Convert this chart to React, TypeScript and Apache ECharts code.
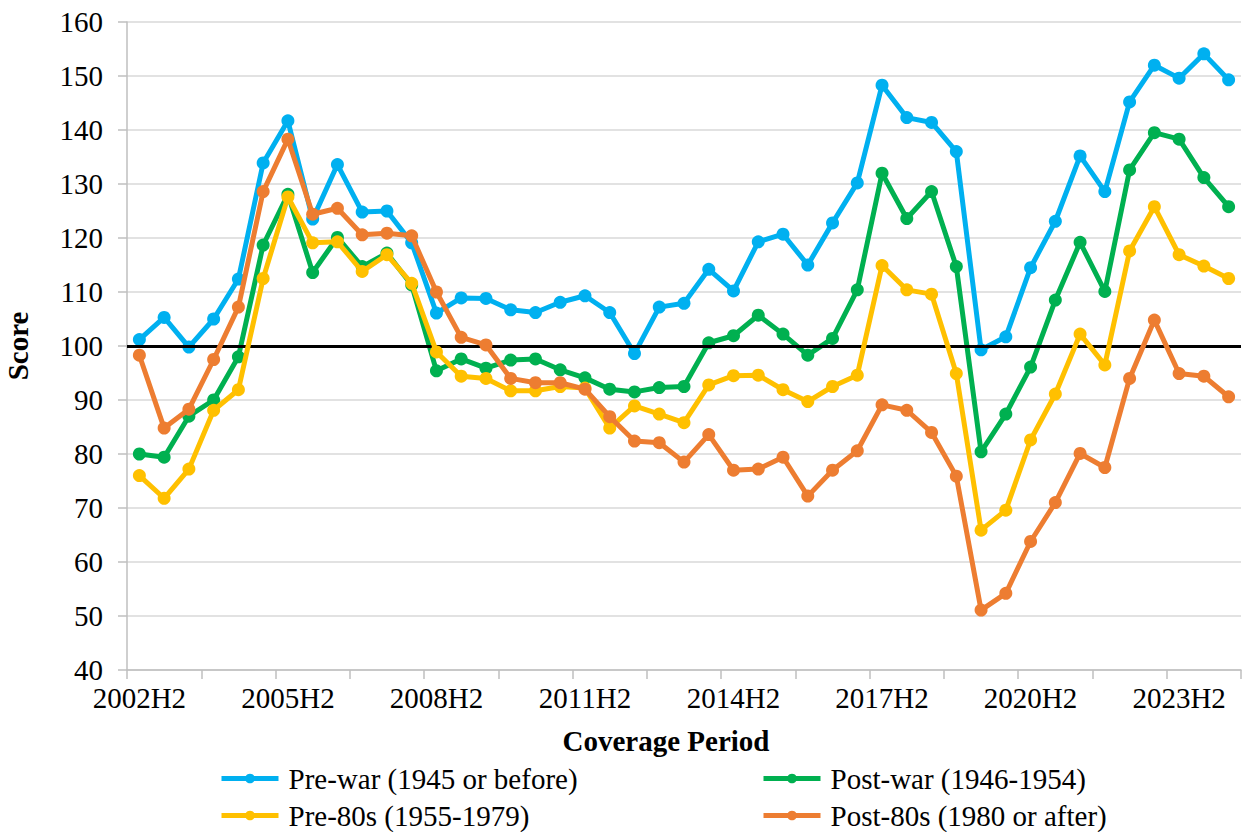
import React, { useEffect, useRef } from "react";
import * as echarts from "echarts";

const periods = [
  "2002H2", "2003H1", "2003H2", "2004H1", "2004H2", "2005H1", "2005H2", "2006H1", "2006H2",
  "2007H1", "2007H2", "2008H1", "2008H2", "2009H1", "2009H2", "2010H1", "2010H2", "2011H1",
  "2011H2", "2012H1", "2012H2", "2013H1", "2013H2", "2014H1", "2014H2", "2015H1", "2015H2",
  "2016H1", "2016H2", "2017H1", "2017H2", "2018H1", "2018H2", "2019H1", "2019H2", "2020H1",
  "2020H2", "2021H1", "2021H2", "2022H1", "2022H2", "2023H1", "2023H2", "2024H1", "2024H2",
];

const preWar = [
  101.2, 105.3, 99.8, 105.0, 112.4, 133.9, 141.7, 123.5, 133.6, 124.8, 125.0, 119.1, 106.1,
  108.9, 108.8, 106.7, 106.2, 108.1, 109.3, 106.2, 98.6, 107.2, 107.9, 114.2, 110.2, 119.3,
  120.7, 115.0, 122.8, 130.2, 148.3, 142.3, 141.4, 136.0, 99.3, 101.7, 114.5, 123.1, 135.2,
  128.6, 145.2, 152.0, 149.6, 154.1, 149.3,
];

const postWar = [
  80.0, 79.4, 87.0, 90.0, 98.0, 118.7, 128.1, 113.6, 120.1, 114.7, 117.2, 111.3, 95.4, 97.6,
  95.9, 97.4, 97.6, 95.6, 94.1, 92.0, 91.5, 92.3, 92.5, 100.6, 101.9, 105.7, 102.2, 98.3,
  101.4, 110.4, 132.0, 123.6, 128.6, 114.7, 80.4, 87.4, 96.1, 108.5, 119.2, 110.1, 132.6,
  139.5, 138.3, 131.2, 125.8,
];

const pre80s = [
  76.0, 71.8, 77.2, 88.1, 91.9, 112.5, 127.6, 119.1, 119.3, 113.8, 116.9, 111.6, 98.9, 94.4,
  94.0, 91.7, 91.7, 92.5, 92.2, 84.8, 88.9, 87.4, 85.8, 92.8, 94.5, 94.6, 91.9, 89.7, 92.5,
  94.6, 114.9, 110.4, 109.6, 94.9, 65.9, 69.6, 82.6, 91.1, 102.2, 96.5, 117.6, 125.8, 116.9,
  114.8, 112.5,
];

const post80s = [
  98.3, 84.8, 88.3, 97.5, 107.2, 128.6, 138.3, 124.4, 125.5, 120.6, 120.9, 120.4, 110.0,
  101.6, 100.2, 94.0, 93.2, 93.2, 92.0, 86.9, 82.4, 82.1, 78.5, 83.6, 77.0, 77.2, 79.4, 72.2,
  77.0, 80.6, 89.1, 88.1, 84.0, 75.9, 51.1, 54.2, 63.8, 71.0, 80.1, 77.5, 94.0, 104.8, 94.9,
  94.4, 90.6,
];

const seriesNames = [
  "Pre-war (1945 or before)",
  "Post-war (1946-1954)",
  "Pre-80s (1955-1979)",
  "Post-80s (1980 or after)",
];
const seriesColors = ["#00B0F0", "#00B050", "#FFC000", "#ED7D31"];
const seriesData = [preWar, postWar, pre80s, post80s];
const referenceLevel = 100;

const FONT = "'Liberation Serif', 'Times New Roman', serif";
const FS = 29;

export default function App() {
  const ref = useRef<HTMLDivElement>(null);

  useEffect(() => {
    if (!ref.current) return;
    const chart = echarts.init(ref.current, undefined, { renderer: "svg" });

    const legendPos = [
      { left: 219, top: 764 },
      { left: 761, top: 764 },
      { left: 219, top: 801 },
      { left: 761, top: 801 },
    ];

    const option: any = {
      animation: false,
      backgroundColor: "#ffffff",
      textStyle: { fontFamily: FONT },
      grid: { left: 127, right: 2, top: 22, bottom: 162, containLabel: false },
      legend: seriesNames.map((n, i) => ({
        data: [n],
        left: legendPos[i].left,
        top: legendPos[i].top,
        itemWidth: 57,
        itemHeight: 12,
        itemGap: 0,
        padding: 0,
        lineStyle: { width: 5 },
        textStyle: {
          fontFamily: FONT,
          fontSize: FS,
          color: "#000",
          padding: [0, 0, 0, 5],
        },
        selectedMode: false,
      })),
      xAxis: {
        type: "category",
        data: periods,
        boundaryGap: true,
        axisLine: { lineStyle: { color: "#BFBFBF", width: 1.5 } },
        axisTick: {
          show: true,
          interval: 2,
          length: 9,
          lineStyle: { color: "#BFBFBF", width: 1.5 },
        },
        axisLabel: {
          interval: 5,
          fontFamily: FONT,
          fontSize: FS,
          color: "#000",
          margin: 13,
        },
        splitLine: { show: false },
      },
      yAxis: {
        type: "value",
        min: 40,
        max: 160,
        interval: 10,
        axisLine: { show: true, lineStyle: { color: "#BFBFBF", width: 1.5 } },
        axisTick: { show: true, length: 9, lineStyle: { color: "#BFBFBF", width: 1.5 } },
        axisLabel: {
          fontFamily: FONT,
          fontSize: FS,
          color: "#000",
          margin: 24,
        },
        splitLine: { show: true, lineStyle: { color: "#D9D9D9", width: 1.5 } },
      },
      graphic: [
        {
          type: "text",
          x: 18,
          y: 346,
          rotation: Math.PI / 2,
          style: {
            text: "Score",
            font: `bold ${FS}px ${FONT}`,
            fill: "#000",
            align: "center",
            verticalAlign: "middle",
          },
        },
        {
          type: "text",
          x: 666,
          y: 741,
          style: {
            text: "Coverage Period",
            font: `bold ${FS}px ${FONT}`,
            fill: "#000",
            align: "center",
            verticalAlign: "middle",
          },
        },
      ],
      series: seriesNames.map((n, i) => ({
        name: n,
        type: "line",
        data: seriesData[i],
        symbol: "circle",
        symbolSize: 13,
        showSymbol: true,
        lineStyle: { color: seriesColors[i], width: 5 },
        itemStyle: { color: seriesColors[i] },
        z: 3 + i,
        markLine:
          i === 3
            ? {
                silent: true,
                symbol: "none",
                label: { show: false },
                lineStyle: { color: "#000", width: 3, type: "solid" },
                data: [{ yAxis: referenceLevel }],
              }
            : undefined,
      })),
    };

    chart.setOption(option);
    return () => chart.dispose();
  }, []);

  return (
    <div
      ref={ref}
      style={{ position: "fixed", left: 0, top: 0, width: 1243, height: 832, background: "#fff" }}
    />
  );
}
